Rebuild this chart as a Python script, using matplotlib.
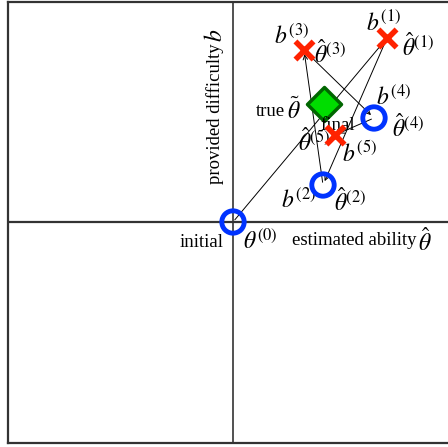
import numpy as np
import matplotlib.pyplot as plt

plt.rcParams['font.family'] = ['Liberation Serif', 'DejaVu Serif']
plt.rcParams['mathtext.fontset'] = 'stix'

# estimated ability (x) and provided difficulty (y) for each step
step_x = [0, 154, 90, 71, 141, 102]
step_y = [0, 184, 37, 172, 104, 87]
step_marker = ['o', 'x', 'o', 'x', 'o', 'x']   # o: correct answer, x: wrong answer
true_x, true_y = 91, 118

fig = plt.figure(figsize=(4.48, 4.47), dpi=100)
ax = fig.add_axes([8/448, 4/447, 440/448, 441/447])
ax.set_xlim(-225, 215)
ax.set_ylim(-221, 220)
ax.set_xticks([])
ax.set_yticks([])
for s in ['left', 'top', 'bottom']:
    ax.spines[s].set_linewidth(1.6)
    ax.spines[s].set_color('#333333')
ax.spines['right'].set_visible(False)

ax.axhline(0, color='#333333', lw=1.6, zorder=1)
ax.axvline(0, color='#333333', lw=1.2, zorder=1)

# arrows between consecutive steps
for i in range(len(step_x) - 1):
    ax.annotate('', xy=(step_x[i+1], step_y[i+1]), xytext=(step_x[i], step_y[i]),
                arrowprops=dict(arrowstyle='->', color='black', lw=0.7,
                                shrinkA=2, shrinkB=3, mutation_scale=8), zorder=2)

ax.scatter([true_x], [true_y], marker='D', s=300, color='#00dd00',
           edgecolors='#006600', linewidths=2.5, zorder=3)

for x, y, m in zip(step_x, step_y, step_marker):
    if m == 'o':
        ax.scatter([x], [y], marker='o', s=260, facecolors='none',
                   edgecolors='#0033ff', linewidths=3.5, zorder=4)
    else:
        ax.scatter([x], [y], marker='x', s=170, color='#ff2200',
                   linewidths=4, zorder=4)

fs = 13.5
mfs = 17
ax.text(-18, 108, 'provided difficulty', rotation=90,
        ha='center', va='center', fontsize=fs)
ax.text(-17, 187, r'$b$', rotation=90,
        ha='center', va='center', fontsize=mfs)
ax.text(121, -18, 'estimated ability', ha='center', va='center', fontsize=fs)
ax.text(192, -20, r'$\hat{\theta}$', ha='center', va='center', fontsize=mfs)
ax.text(-31, -20, 'initial', ha='center', va='center', fontsize=fs)
ax.text(27, -19, r'$\theta^{(0)}$', ha='center', va='center', fontsize=mfs)

ax.text(151, 198, r'$b^{(1)}$', ha='center', va='center', fontsize=mfs)
ax.text(185, 175, r'$\hat{\theta}^{(1)}$', ha='center', va='center', fontsize=mfs)
ax.text(117, 20, r'$\hat{\theta}^{(2)}$', ha='center', va='center', fontsize=mfs)
ax.text(66, 22, r'$b^{(2)}$', ha='center', va='center', fontsize=mfs)
ax.text(59, 186, r'$b^{(3)}$', ha='center', va='center', fontsize=mfs)
ax.text(97, 168, r'$\hat{\theta}^{(3)}$', ha='center', va='center', fontsize=mfs)
ax.text(161, 125, r'$b^{(4)}$', ha='center', va='center', fontsize=mfs)
ax.text(175, 94, r'$\hat{\theta}^{(4)}$', ha='center', va='center', fontsize=mfs)
ax.text(127, 68, r'$b^{(5)}$', ha='center', va='center', fontsize=mfs)
ax.text(81, 80, r'$\hat{\theta}^{(5)}$', ha='center', va='center', fontsize=mfs)
ax.text(105, 96, 'final', ha='center', va='center', fontsize=fs)
ax.text(37, 110, 'true', ha='center', va='center', fontsize=fs)
ax.text(61, 111, r'$\tilde{\theta}$', ha='center', va='center', fontsize=mfs)

fig.savefig('out.png', dpi=100)
